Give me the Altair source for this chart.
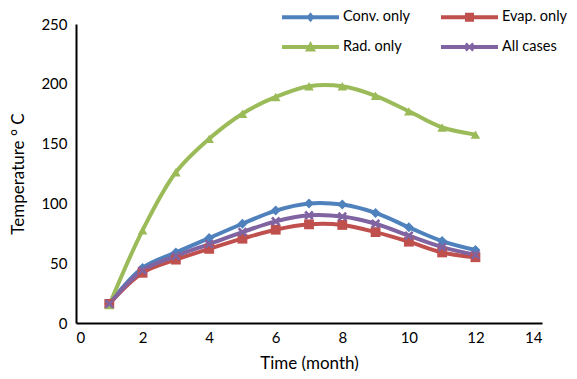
import altair as alt
import pandas as pd

months = list(range(1, 13))
conv = [16, 46, 59, 71, 83, 94, 100, 99, 92, 80, 68.5, 61]
evap = [16, 42, 53, 62, 70.5, 78, 82.5, 82, 76, 68, 59, 55]
rad = [15, 77.5, 126, 154, 175, 189, 198, 198, 190, 177, 163.5, 157.5]
allc = [16, 44, 56, 66, 76, 85, 90, 89, 83, 73, 63.5, 57]

names = ["Conv. only", "Evap. only", "Rad. only", "All cases"]
colors = ["#4F81BD", "#C0504D", "#9BBB59", "#8064A2"]
series = [conv, evap, rad, allc]

rows = []
for n, vals in zip(names, series):
    for m, v in zip(months, vals):
        rows.append({"month": m, "temp": v, "series": n})
df = pd.DataFrame(rows)

xpath = "M-1,-0.6L-0.6,-1L0,-0.4L0.6,-1L1,-0.6L0.4,0L1,0.6L0.6,1L0,0.4L-0.6,1L-1,0.6L-0.4,0Z"
marker_shapes = ["diamond", "square", "triangle-up", xpath]

# legend glyphs: a line segment with the series marker in its middle
bar = "M-2.85,-0.2L2.85,-0.2L2.85,0.2L-2.85,0.2Z"
leg_shapes = [
    bar + "M0,-0.5L0.4,0L0,0.5L-0.4,0Z",
    bar + "M-0.45,-0.45L0.45,-0.45L0.45,0.45L-0.45,0.45Z",
    bar + "M0,-0.6L0.55,0.45L-0.55,0.45Z",
    bar + "M-0.45,-0.28L-0.28,-0.45L0,-0.17L0.28,-0.45L0.45,-0.28L0.17,0L0.45,0.28L0.28,0.45L0,0.17L-0.28,0.45L-0.45,0.28L-0.17,0Z",
]

FONT = "Lato"

x_enc = alt.X("month:Q", scale=alt.Scale(domain=[0, 14], nice=False),
              axis=alt.Axis(values=[0, 2, 4, 6, 8, 10, 12, 14], title="Time (month)"))
y_enc = alt.Y("temp:Q", scale=alt.Scale(domain=[0, 250], nice=False),
              axis=alt.Axis(values=[0, 50, 100, 150, 200, 250], title="Temperature ° C"))

lines = alt.Chart(df).mark_line(interpolate="catmull-rom", strokeWidth=4).encode(
    x=x_enc, y=y_enc,
    color=alt.Color("series:N", scale=alt.Scale(domain=names, range=colors), legend=None),
    detail="series:N",
)

points = alt.Chart(df).mark_point(filled=True, opacity=1).encode(
    x="month:Q", y="temp:Q",
    color=alt.Color("series:N", scale=alt.Scale(domain=names, range=colors), legend=None),
    shape=alt.Shape("series:N", scale=alt.Scale(domain=names, range=marker_shapes), legend=None),
    size=alt.Size("series:N", scale=alt.Scale(domain=names, range=[100, 90, 130, 80]), legend=None),
)

leg = alt.Legend(
    title=None, orient="none", legendX=224.5, legendY=-17, columns=2,
    direction="horizontal",
    symbolSize=400, symbolOpacity=1, symbolStrokeWidth=0,
    labelFont=FONT, labelFontSize=14.5, labelColor="black",
    rowPadding=13, columnPadding=30, labelOffset=22.5, padding=0,
)

legend_layer = alt.Chart(df).mark_point(filled=True, opacity=0).encode(
    x="month:Q", y="temp:Q",
    color=alt.Color("series:N", scale=alt.Scale(domain=names, range=colors), legend=leg),
    shape=alt.Shape("series:N", scale=alt.Scale(domain=names, range=leg_shapes), legend=leg),
)

chart = alt.layer(lines, points, legend_layer).resolve_scale(
    color="independent", shape="independent", size="independent"
).properties(
    width=466, height=299,
    autosize=alt.AutoSizeParams(type="none"),
    padding={"left": 68, "top": 16, "right": 27, "bottom": 48},
).configure_view(stroke=None).configure_axis(
    grid=False, ticks=False, domainColor="black", domainWidth=2,
    labelFont=FONT, labelFontSize=15, labelColor="black",
    titleFont=FONT, titleFontSize=17, titleColor="black", titleFontWeight="normal",
).configure_axisX(labelPadding=7, titlePadding=10).configure_axisY(labelPadding=9, titlePadding=13)

chart.save("out.html", embed_options={"renderer": "svg", "actions": False})
